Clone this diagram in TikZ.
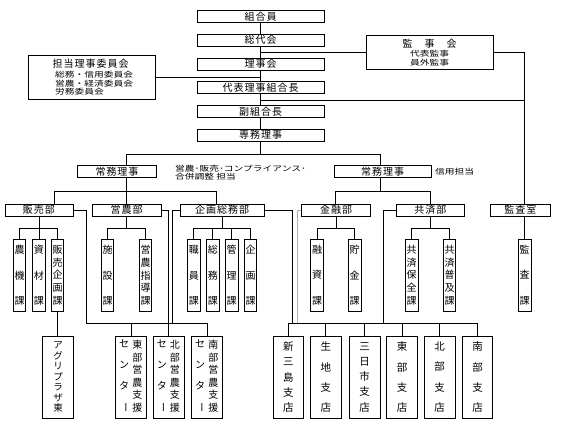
\documentclass[tikz,border=0pt]{standalone}
\usepackage{fontspec}
\usepackage{graphicx}
\setmainfont{Noto Sans CJK JP}
\newfontfamily\jpbox[LetterSpace=10]{Noto Sans CJK JP}
\newfontfamily\jpsm[FakeStretch=1.3]{Noto Sans CJK JP}
\newcommand{\boxfont}{\jpbox\fontsize{10}{11}\selectfont}
\newcommand{\smfont}{\jpsm\fontsize{7.5}{8}\selectfont}
\newcommand{\myvf}[2]{\fontsize{#1}{#2}\selectfont}
\newcommand{\vbar}{\rotatebox[origin=c]{-90}{ー}}
\begin{document}
\begin{tikzpicture}[x=1pt,y=-1pt,
  box/.style={draw, line width=0.8pt, inner sep=0pt, minimum height=12pt, font=\boxfont},
  frame/.style={draw, line width=0.8pt, inner sep=0pt},
  vsec/.style={draw, line width=0.8pt, inner sep=0pt, minimum width=12.5pt, minimum height=71.7pt, align=center},
  vbr/.style={draw, line width=0.8pt, inner sep=0pt, minimum width=30.5pt, minimum height=82.3pt, align=center},
  vtxt/.style={inner sep=0pt, align=center},
  conn/.style={line width=0.8pt},
  lbl/.style={inner sep=0pt, font=\smfont, anchor=west}]
\useasboundingbox (0,0) rectangle (563,424);
\fill[white] (0,0) rectangle (563,424);

% ---- top column
\node[box, minimum width=127pt] (n1) at (260.5,16.5) {組合員};
\node[box, minimum width=127pt] (n2) at (260.5,40.2) {総代会};
\node[box, minimum width=127pt] (n3) at (260.5,63.9) {理事会};
\node[box, minimum width=127pt] (n4) at (260.5,87.6) {代表理事組合長};
\node[box, minimum width=127pt] (n5) at (260.5,111.3) {副組合長};
\node[box, minimum width=127pt] (n6) at (260.5,135.0) {専務理事};

% ---- 監事会
\node[frame, minimum width=127pt, minimum height=34.3pt] (kanji) at (429.5,52.2) {};
\node[inner sep=0pt, font=\boxfont] (kj1) at (429.5,43.5) {監　事　会};
\node[inner sep=0pt, font=\smfont] (kj2) at (429.5,53.3) {代表監事};
\node[inner sep=0pt, font=\smfont] (kj3) at (429.5,62.5) {員外監事};

% ---- 担当理事委員会
\node[frame, minimum width=127pt, minimum height=44.3pt] (tanto) at (92,77.6) {};
\node[inner sep=0pt, font=\boxfont] (tt1) at (90.5,64) {担当理事委員会};
\node[lbl] (tt2) at (55,75) {総務・信用委員会};
\node[lbl] (tt3) at (55,83.3) {営農・経済委員会};
\node[lbl] (tt4) at (55,91.7) {労務委員会};

% ---- 常務理事
\node[box, minimum width=79.4pt] (jo1) at (117,171.8) {常務理事};
\node[box, minimum width=96.7pt] (jo2) at (382.7,171.8) {常務理事};
\node[lbl] (l1) at (175,168.6) {営農･販売･コンプライアンス･};
\node[lbl] (l2) at (175,177.0) {合併調整 担当};
\node[lbl] (l3) at (435,172) {信用担当};

% ---- departments
\node[box, minimum width=68pt] (hanbai) at (39,210) {販売部};
\node[box, minimum width=69pt] (einou) at (126.5,210) {営農部};
\node[box, minimum width=84pt] (kikaku) at (222,210) {企画総務部};
\node[box, minimum width=69pt] (kinyu) at (336.2,210) {金融部};
\node[box, minimum width=67.3pt] (kyosai) at (430.3,210) {共済部};
\node[box, minimum width=59.3pt] (ksitsu) at (520.3,210) {監査室};

% ---- sections
\node[vsec, font={\myvf{10}{25.5}}] (nouki) at (19.5,275.2) {農\\機\\課};
\node[vsec, font={\myvf{10}{25.5}}] (shizai) at (39,275.2) {資\\材\\課};
\node[vsec, font={\myvf{10}{12.75}}] (hkikaku) at (57.5,275.2) {販\\売\\企\\画\\課};
\node[vsec, font={\myvf{10}{25.5}}] (shisetsu) at (107.5,275.2) {施\\設\\課};
\node[vsec, font={\myvf{10}{12.75}}] (shidou) at (145.5,275.2) {営\\農\\指\\導\\課};
\node[vsec, font={\myvf{10}{25.5}}] (shokuin) at (193.8,275.2) {職\\員\\課};
\node[vsec, font={\myvf{10}{25.5}}] (soumu) at (212.8,275.2) {総\\務\\課};
\node[vsec, font={\myvf{10}{25.5}}] (kanri) at (231.7,275.2) {管\\理\\課};
\node[vsec, font={\myvf{10}{25.5}}] (kikakuka) at (250.5,275.2) {企\\画\\課};
\node[vsec, font={\myvf{10}{25.5}}] (yuushi) at (317,275.2) {融\\資\\課};
\node[vsec, font={\myvf{10}{25.5}}] (chokin) at (354.7,275.2) {貯\\金\\課};
\node[vsec, font={\myvf{10}{12.75}}] (hozen) at (411.7,275.2) {共\\済\\保\\全\\課};
\node[vsec, font={\myvf{10}{12.75}}] (fukyu) at (449.5,275.2) {共\\済\\普\\及\\課};
\node[vsec, font={\myvf{10}{25.5}}] (kansaka) at (524.7,275.2) {監\\査\\課};

% ---- bottom row
\node[vbr, minimum width=30.6pt, font={\myvf{9.5}{10.5}}] (aguri) at (58,377.2) {ア\\グ\\リ\\プ\\ラ\\ザ\\東};
\node[vbr, minimum width=31pt] (ce) at (131.2,377.2) {};
\node[vtxt, font={\myvf{10}{12.5}}] (ce1) at (137.3,376.4) {東\\部\\営\\農\\支\\援};
\node[vtxt, font={\myvf{10}{20.6}}] (ce2) at (124.2,376.4) {セ\\ン\\タ\\\vbar};
\node[vbr, minimum width=31pt] (cn) at (168.8,377.2) {};
\node[vtxt, font={\myvf{10}{12.5}}] (cn1) at (174.9,376.4) {北\\部\\営\\農\\支\\援};
\node[vtxt, font={\myvf{10}{20.6}}] (cn2) at (161.8,376.4) {セ\\ン\\タ\\\vbar};
\node[vbr, minimum width=31pt] (cs) at (207.2,377.2) {};
\node[vtxt, font={\myvf{10}{12.5}}] (cs1) at (213.3,376.4) {南\\部\\営\\農\\支\\援};
\node[vtxt, font={\myvf{10}{20.6}}] (cs2) at (200.2,376.4) {セ\\ン\\タ\\\vbar};

\node[vbr, font={\myvf{10.5}{15.2}}] (br1) at (288.3,377.2) {新\\三\\島\\支\\店};
\node[vbr, font={\myvf{10.5}{20.2}}] (br2) at (325.8,377.2) {生\\地\\支\\店};
\node[vbr, font={\myvf{10.5}{15.2}}] (br3) at (364.7,377.2) {三\\日\\市\\支\\店};
\node[vbr, font={\myvf{10.5}{20.2}}] (br4) at (402,377.2) {東\\部\\支\\店};
\node[vbr, font={\myvf{10.5}{20.2}}] (br5) at (439.7,377.2) {北\\部\\支\\店};
\node[vbr, font={\myvf{10.5}{20.2}}] (br6) at (477.5,377.2) {南\\部\\支\\店};

% ---- connectors: top spine
\draw[conn] (n1) -- (n2);
\draw[conn] (n2) -- (n3);
\draw[conn] (n3) -- (n4);
\draw[conn] (n4) -- (n5);
\draw[conn] (n5) -- (n6);
\draw[conn] (kanji.west -| n2.south) -- (kanji.west);
\coordinate (kr) at (524.5,52.2);
\draw[conn] (kanji.east) -- (kr) -- (kr |- ksitsu.north);
\draw[conn] (tanto.east) -- (tanto.east -| n3.south);
\coordinate (s100) at (260.5,100);
\draw[conn] (s100) -- (s100 -| kr);

% ---- 常務理事
\coordinate (sp) at (260.5,154);
\draw[conn] (n6.south) -- (sp);
\coordinate (cl) at (126.7,154);
\coordinate (cr) at (380,154);
\draw[conn] (jo1.north -| cl) -- (cl) -- (cr) -- (jo2.north -| cr);

% ---- department buses
\coordinate (b1) at (126.7,191);
\coordinate (b1l) at (54,191);
\coordinate (b1r) at (216,191);
\draw[conn] (jo1.south -| b1) -- (b1 |- einou.north);
\draw[conn] (b1l |- hanbai.north) -- (b1l) -- (b1r) -- (b1r |- kikaku.north);
\coordinate (b2) at (380,191);
\coordinate (b2l) at (335,191);
\coordinate (b2r) at (430,191);
\draw[conn] (jo2.south -| b2) -- (b2);
\draw[conn] (b2l |- kinyu.north) -- (b2l) -- (b2r) -- (b2r |- kyosai.north);

% ---- section buses
\foreach \d/\a/\b/\lst in {hanbai/nouki/hkikaku/{nouki,shizai,hkikaku},
                           einou/shisetsu/shidou/{shisetsu,shidou},
                           kikaku/shokuin/kikakuka/{shokuin,soumu,kanri,kikakuka},
                           kinyu/yuushi/chokin/{yuushi,chokin},
                           kyosai/hozen/fukyu/{hozen,fukyu}}{
  \draw[conn] (\d.south) -- (\d.south |- 0,228.3);
  \draw[conn] (\a.north |- 0,228.3) -- (\b.north |- 0,228.3);
  \foreach \n in \lst { \draw[conn] (\n.north |- 0,228.3) -- (\n.north); }
}
\draw[conn] (kr |- ksitsu.south) -- (kr |- kansaka.north);

% ---- lower connections
\draw[conn] (hkikaku.south) -- (hkikaku.south |- aguri.north);
\coordinate (hx) at (86,323.3);
\draw[conn] (hanbai.east) -- (hanbai.east -| hx) -- (hx) -- (hx -| cs.north);
\foreach \n in {ce,cs} { \draw[conn] (\n.north |- hx) -- (\n.north); }
\draw[conn] (einou.east) -- (einou.east -| cn.north) -- (cn.north);
\coordinate (kx) at (172.7,323.3);
\draw[conn] (kikaku.west) -- (kikaku.west -| kx) -- (kx);
\coordinate (kex) at (292.7,323.3);
\draw[conn] (kikaku.east) -- (kikaku.east -| kex) -- (kex);
\coordinate (kwx) at (297.3,323.3);
\draw[conn, gray!60] (kinyu.west) -- (kinyu.west -| kwx) -- (kwx);
\coordinate (kyx) at (383.3,323.3);
\draw[conn] (kyosai.west) -- (kyosai.west -| kyx) -- (kyx);
\draw[conn] (br1.north |- kex) -- (br6.north |- kex);
\foreach \n in {br1,br2,br3,br4,br5,br6} { \draw[conn] (\n.north |- kex) -- (\n.north); }
\end{tikzpicture}
\end{document}
